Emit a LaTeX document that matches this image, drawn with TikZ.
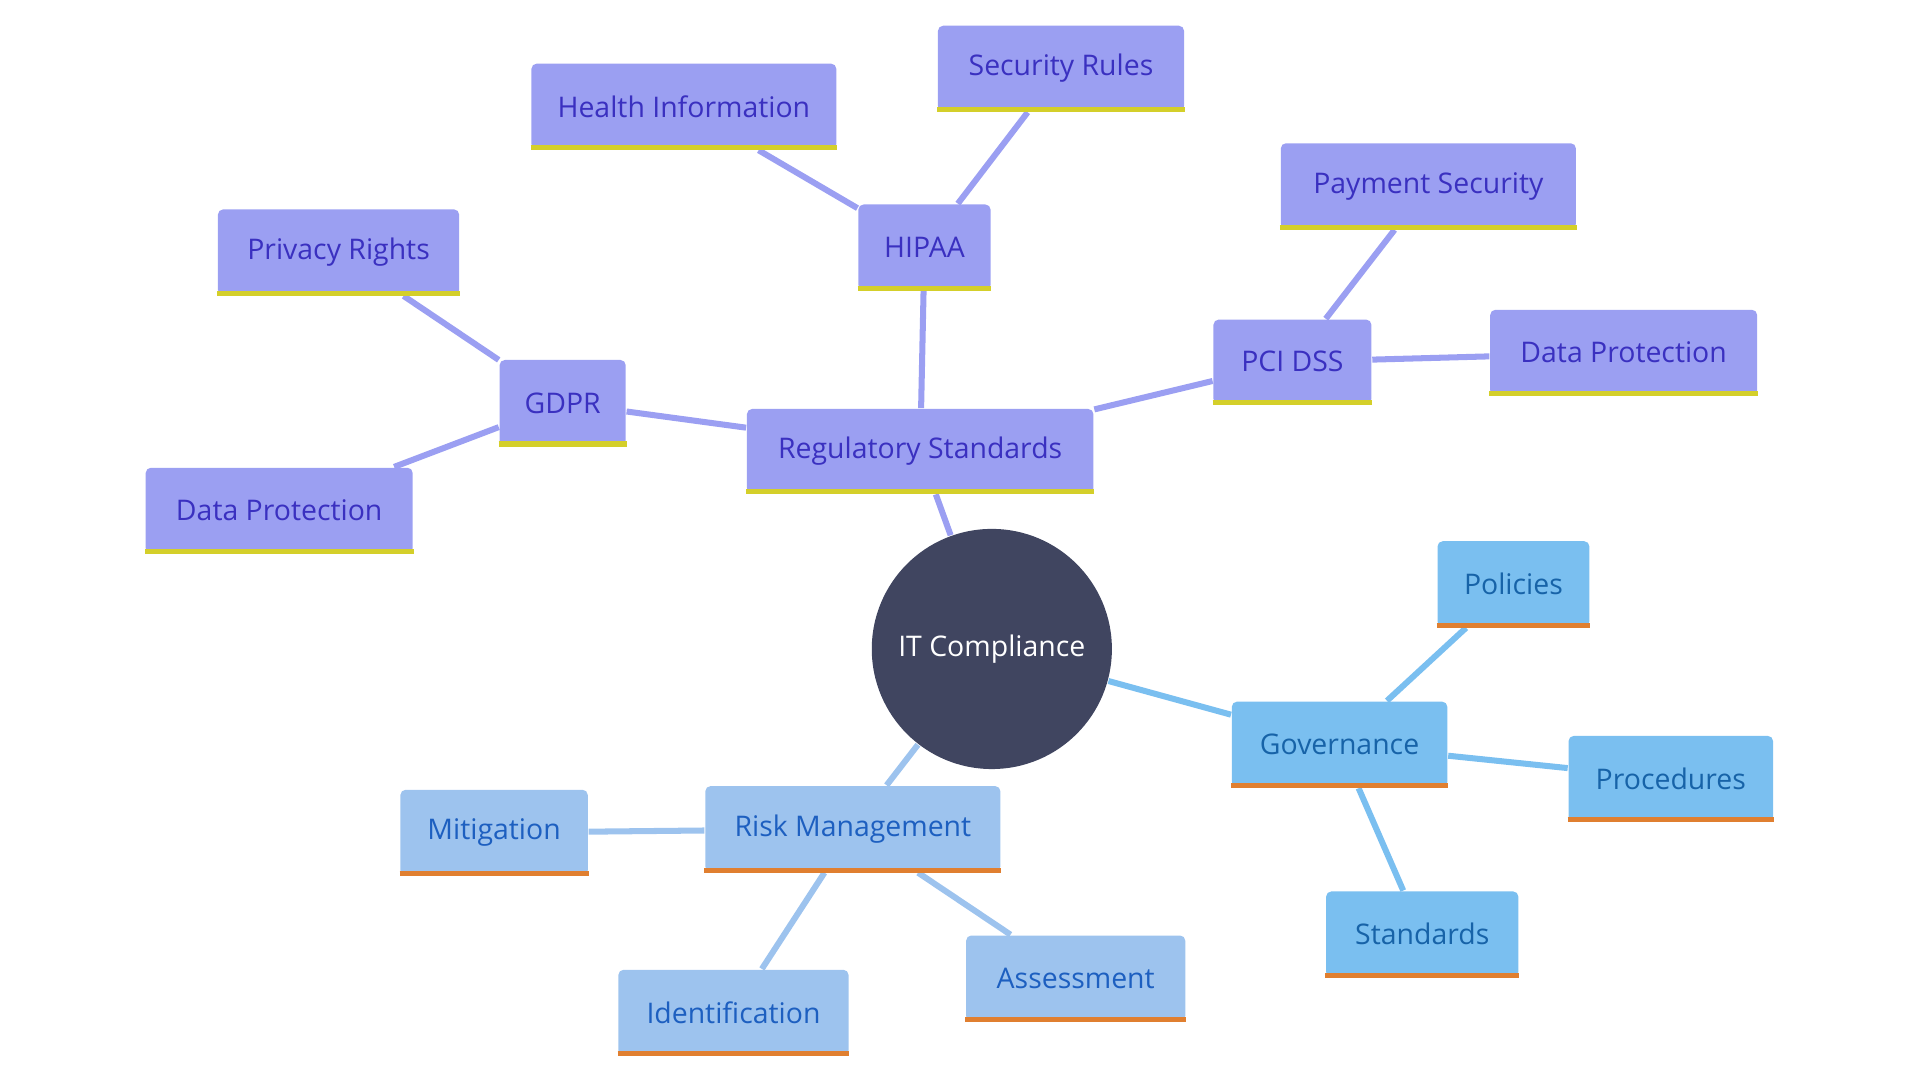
\documentclass[tikz,border=0pt]{standalone}
\usepackage{fontspec}
\setmainfont{Open Sans}
\usetikzlibrary{backgrounds}
\definecolor{pf}{HTML}{9B9FF2}\definecolor{pt}{HTML}{3A30C0}\definecolor{pb}{HTML}{D4CF2A}
\definecolor{gf}{HTML}{7ABFF0}\definecolor{gt}{HTML}{1763A8}\definecolor{ob}{HTML}{E07F30}
\definecolor{rf}{HTML}{9DC3EE}\definecolor{rt}{HTML}{1D5FC0}\definecolor{cf}{HTML}{404560}
\begin{document}
\begin{tikzpicture}[x=0.01cm,y=-0.01cm,
 box/.style={rectangle,rounded corners=1.2pt,inner sep=0pt,font=\fontsize{6.6}{8}\selectfont},
 P/.style={box,fill=pf,text=pt},
 G/.style={box,fill=gf,text=gt},
 R/.style={box,fill=rf,text=rt},
 e/.style={line width=1.4pt}]
\useasboundingbox (0,0) rectangle (1568,882);
\newcommand{\bx}[7]{\node[#1,minimum width={(#4-#3)*0.01cm},minimum height={(#6-#5)*0.01cm}] (#2) at ({(#3+#4)/2},{(#5+#6)/2}) {#7};}
\node[circle,fill=cf,text=white,minimum size=1.96cm,inner sep=0pt,font=\fontsize{6.6}{8}\selectfont] (c) at (810,530) {IT Compliance};
\bx{P}{rs}{610}{893}{334}{403}{Regulatory Standards}
\bx{P}{hi}{701}{809}{167}{237}{HIPAA}
\bx{P}{he}{434}{683}{52}{122}{Health Information}
\bx{P}{sr}{766}{967}{21}{91}{Security Rules}
\bx{P}{gd}{408}{511}{294}{364}{GDPR}
\bx{P}{pr}{178}{375}{171}{241}{Privacy Rights}
\bx{P}{dl}{119}{337}{382}{452}{Data Protection}
\bx{P}{pc}{991}{1120}{261}{330}{PCI DSS}
\bx{P}{ps}{1046}{1287}{117}{187}{Payment Security}
\bx{P}{dr}{1217}{1435}{253}{323}{Data Protection}
\bx{G}{go}{1006}{1182}{573}{643}{Governance}
\bx{G}{po}{1174}{1298}{442}{512}{Policies}
\bx{G}{pd}{1281}{1448}{601}{671}{Procedures}
\bx{G}{st}{1083}{1240}{728}{798}{Standards}
\bx{R}{rm}{576}{817}{642}{712}{Risk Management}
\bx{R}{mi}{327}{480}{645}{715}{Mitigation}
\bx{R}{id}{505}{693}{792}{862}{Identification}
\bx{R}{as}{789}{968}{764}{834}{Assessment}
\foreach \n in {rs,hi,he,sr,gd,pr,dl,pc,ps,dr} \draw[pb,line width=1.2pt] ([yshift=0.6pt]\n.south west) -- ([yshift=0.6pt]\n.south east);
\foreach \n in {go,po,pd,st,rm,mi,id,as} \draw[ob,line width=1.2pt] ([yshift=0.6pt]\n.south west) -- ([yshift=0.6pt]\n.south east);
\begin{scope}[on background layer]
\foreach \a/\b in {c/rs,rs/hi,hi/he,hi/sr,rs/gd,gd/pr,gd/dl,rs/pc,pc/ps,pc/dr} \draw[e,pf] (\a) -- (\b);
\foreach \a/\b in {c/go,go/po,go/pd,go/st} \draw[e,gf] (\a) -- (\b);
\foreach \a/\b in {c/rm,rm/mi,rm/id,rm/as} \draw[e,rf] (\a) -- (\b);
\end{scope}
\end{tikzpicture}
\end{document}
